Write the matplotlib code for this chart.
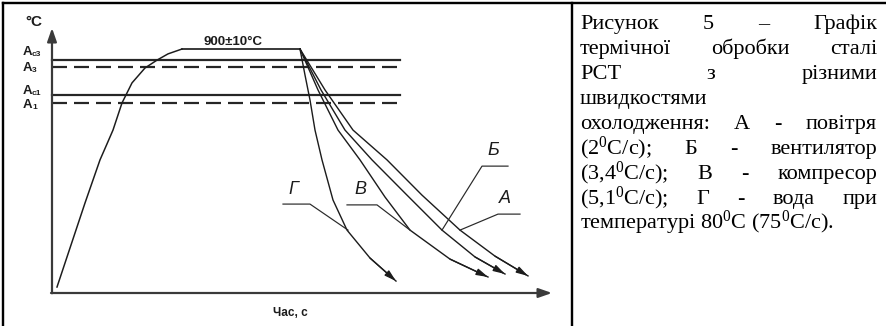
import matplotlib

matplotlib.use("Agg")
import matplotlib.pyplot as plt
from matplotlib.lines import Line2D

W, H, DPI = 887, 326, 100

# time, s (arbitrary scale)  /  temperature, °C
heat_t = [5, 18, 33, 48, 55, 61, 70, 80, 93, 105, 116, 130]
heat_T = [22, 166, 332, 491, 550, 601, 701, 775, 830, 859, 882, 900]
hold_t = [130, 248]
hold_T = [900, 900]

cool_g_t = [248, 253, 258, 263, 270, 281, 295, 318, 344]
cool_g_T = [900, 804, 712, 601, 491, 343, 232, 129, 44]
cool_v_t = [248, 266, 286, 308, 333, 358, 398, 436]
cool_v_T = [900, 749, 601, 491, 354, 232, 125, 59]
cool_b_t = [248, 269, 293, 320, 355, 390, 423, 453]
cool_b_T = [900, 749, 601, 491, 361, 232, 133, 70]
cool_a_t = [248, 273, 301, 335, 370, 408, 443, 476]
cool_a_T = [900, 749, 601, 491, 361, 232, 136, 63]

crit_sub = ["c3", "3", "c1", "1"]
crit_T = [860, 834, 731, 701]
crit_end = 348

# label text, label point, leader polyline
curve_labels = ["Г", "В", "Б", "А"]
label_t = [241, 308, 441, 453]
label_T = [380, 380, 524, 347]
leader_t = [[231, 258, 296], [295, 325, 358], [456, 430, 390], [468, 446, 408]]
leader_T = [[328, 328, 232], [325, 325, 232], [468, 468, 232], [291, 291, 232]]

caption = [
    (["Рисунок", "5", "–", "Графік"], True),
    (["термічної", "обробки", "сталі"], True),
    (["РСТ", "з", "різними"], True),
    (["швидкостями"], False),
    (["охолодження:", "А", "-", "повітря"], True),
    (["(2$^0$С/с);", "Б", "-", "вентилятор"], True),
    (["(3,4$^0$С/с);", "В", "-", "компресор"], True),
    (["(5,1$^0$С/с);", "Г", "-", "вода", "при"], True),
    (["температурі 80$^0$С (75$^0$С/с)."], False),
]

plt.rcParams["mathtext.fontset"] = "custom"
plt.rcParams["mathtext.rm"] = "Liberation Serif"
plt.rcParams["mathtext.default"] = "rm"
plt.rcParams["lines.scale_dashes"] = False

INK = "#1c1c1c"
PX = 72 / DPI  # points per pixel
T_TOP = 265 / 0.2711


def fx(x):
    return x / W


def fy(y):
    return 1 - y / H


fig = plt.figure(figsize=(W / DPI, H / DPI), dpi=DPI)
ax = fig.add_axes([fx(52), fy(293), 500 / W, 265 / H])
ax.set_xlim(0, 500)
ax.set_ylim(0, T_TOP)
ax.axis("off")

# table borders
for xs, ys in [([3, 3], [3, H]), ([3, W], [3, 3]), ([572, 572], [3, H])]:
    fig.add_artist(Line2D([fx(v) for v in xs], [fy(v) for v in ys],
                          transform=fig.transFigure, color="black", lw=2.4 * PX))

# axes with arrows
axis_kw = dict(arrowstyle="-|>,head_length=0.8,head_width=0.28", color="#3a3a3a",
               lw=2.2 * PX, shrinkA=0, shrinkB=0, mutation_scale=10)
ax.annotate("", xy=(0, T_TOP), xytext=(0, -1), arrowprops=axis_kw,
            annotation_clip=False)
ax.annotate("", xy=(500, 0), xytext=(-1, 0), arrowprops=axis_kw,
            annotation_clip=False)

# critical points
for i, (sub, T) in enumerate(zip(crit_sub, crit_T)):
    ls = (0, (15 * PX, 7 * PX)) if i % 2 == 1 else "-"
    ax.plot([0, crit_end], [T, T], color="#262626", lw=2.2 * PX, ls=ls,
            clip_on=False)
    dy = [-8, 1, -4, 2][i]
    ax.annotate("A", xy=(0, T), xytext=(-29, -dy), textcoords="offset pixels",
                fontsize=9.5, fontweight="bold", family="Liberation Sans",
                ha="left", va="center", color=INK, annotation_clip=False)
    ax.annotate(sub, xy=(0, T), xytext=(-20, -dy - 3), textcoords="offset pixels",
                fontsize=6, fontweight="bold", family="Liberation Sans",
                ha="left", va="center", color=INK, annotation_clip=False)

ax.annotate("°C", xy=(0, T_TOP), xytext=(-27, 6), textcoords="offset pixels",
            fontsize=11, fontweight="bold", family="Liberation Sans",
            ha="left", va="center", color=INK, annotation_clip=False)

# heating and holding
ax.plot(heat_t, heat_T, color=INK, lw=1.5 * PX, clip_on=False)
ax.plot(hold_t, hold_T, color=INK, lw=1.7 * PX, clip_on=False)
ax.text(sum(hold_t) / 2 - 8, 905, "900±10°C", fontsize=9.5, fontweight="bold",
        family="Liberation Sans", ha="center", va="bottom", color=INK)

# cooling curves
head_kw = dict(arrowstyle="-|>,head_length=0.7,head_width=0.2", color=INK,
               lw=1.3 * PX, shrinkA=0, shrinkB=0, mutation_scale=10)
for ct, cT in [(cool_g_t, cool_g_T), (cool_v_t, cool_v_T),
               (cool_b_t, cool_b_T), (cool_a_t, cool_a_T)]:
    ax.plot(ct, cT, color=INK, lw=1.4 * PX, clip_on=False)
    ax.annotate("", xy=(ct[-1], cT[-1]), xytext=(ct[-2], cT[-2]),
                arrowprops=head_kw, annotation_clip=False)

for name, lt, lT, pt, pT in zip(curve_labels, label_t, label_T, leader_t, leader_T):
    ax.plot(pt, pT, color="#2a2a2a", lw=1.2 * PX, clip_on=False)
    ax.text(lt, lT, name, fontsize=13, style="italic", family="Liberation Sans",
            ha="center", va="center", color=INK)

ax.text(238, -74, "Час, с", fontsize=8.5, fontweight="bold",
        family="Liberation Sans", ha="center", va="center", color=INK,
        clip_on=False)

# caption, justified like the source document
renderer = fig.canvas.get_renderer()
FS = 16
LEFT, RIGHT = 580, 877
BASE0, STEP = 29, 25


def word_width(s):
    t = fig.text(0, 0, s, fontsize=FS, family="Liberation Serif")
    w = t.get_window_extent(renderer).width
    t.remove()
    return w


space = word_width("a b") - word_width("ab")
for i, (words, justify) in enumerate(caption):
    y = BASE0 + i * STEP
    widths = [word_width(w) for w in words]
    if justify and len(words) > 1:
        gap = (RIGHT - LEFT - sum(widths)) / (len(words) - 1)
    else:
        gap = space
    x = LEFT
    for w, wd in zip(words, widths):
        fig.text(fx(x), fy(y), w, fontsize=FS, family="Liberation Serif",
                 ha="left", va="baseline", color="black")
        x += wd + gap

fig.savefig("out.png", dpi=DPI)
plt.close(fig)
